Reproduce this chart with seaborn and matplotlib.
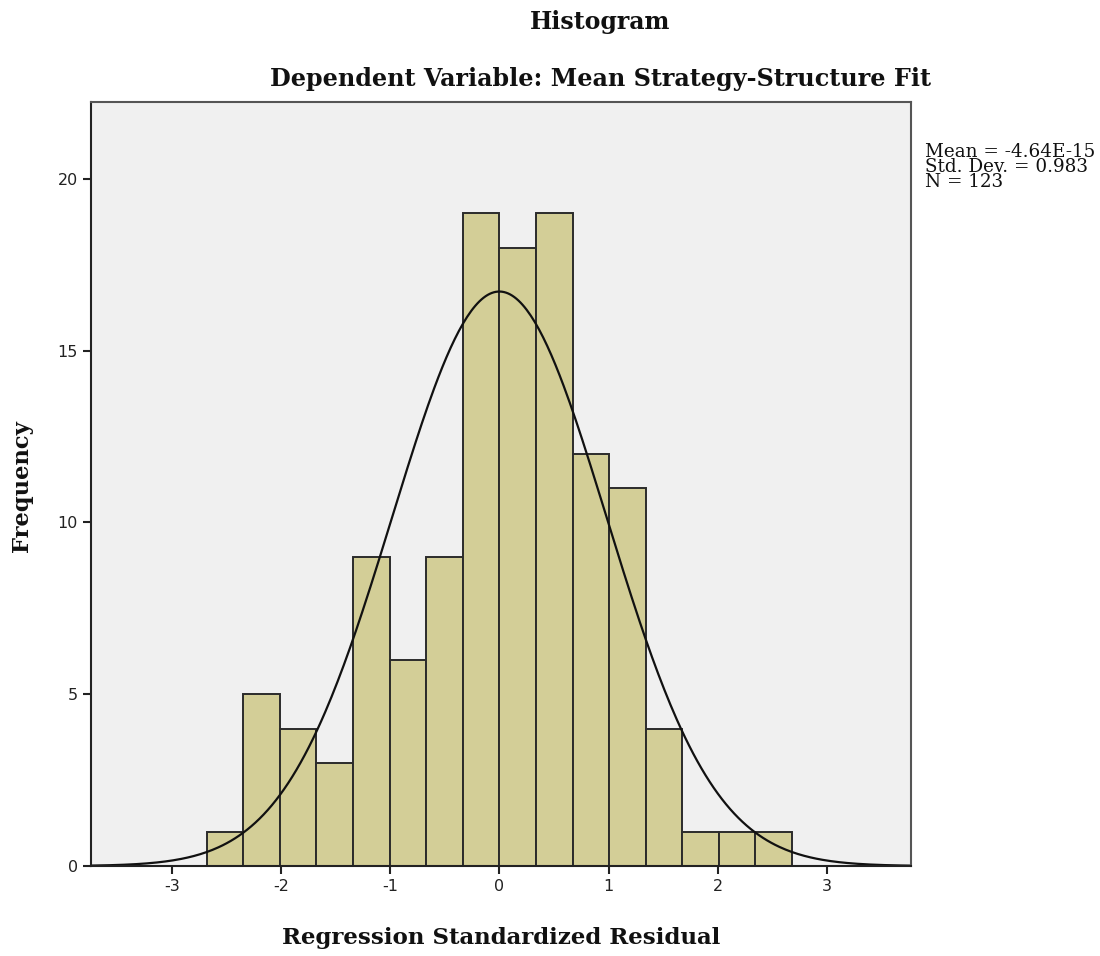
import numpy as np
import pandas as pd
import matplotlib
matplotlib.use("Agg")
import matplotlib.pyplot as plt
import seaborn as sns

# ---- data ----
counts = [1, 5, 4, 3, 9, 6, 9, 19, 18, 19, 12, 11, 4, 1, 1, 1]
bin_start = -2.68
bin_width = 0.335
mean_val = -4.64e-15
sd_val = 0.983
n_val = 123
x_ticks = [-3, -2, -1, 0, 1, 2, 3]
y_ticks = [0, 5, 10, 15, 20]

edges = [float(bin_start + bin_width * i) for i in range(len(counts) + 1)]
centers = [(edges[i] + edges[i + 1]) / 2 for i in range(len(counts))]
df = pd.DataFrame({"resid": centers, "count": counts})

sns.set_theme(style="white")
plt.rcParams["font.family"] = ["DejaVu Sans"]

fig = plt.figure(figsize=(11, 9.56), dpi=100)
ax = fig.add_axes([91 / 1100, 1 - 866 / 956, 820 / 1100, 764 / 956])
ax.set_facecolor("#F0F0F0")

sns.histplot(data=df, x="resid", weights="count", bins=edges, ax=ax,
             color="#D3CE97", alpha=1.0, edgecolor="#2b2b2b", linewidth=1.4)

# fitted normal curve
xs = np.linspace(-3.74, 3.77, 400)
ys = n_val * bin_width / (sd_val * np.sqrt(2 * np.pi)) * np.exp(-0.5 * ((xs - mean_val) / sd_val) ** 2)
sns.lineplot(x=xs, y=ys, ax=ax, color="#111111", linewidth=1.6)

ax.set_xlim(-3.74, 3.77)
ax.set_ylim(0, 22.24)
ax.set_xticks(x_ticks)
ax.set_xticklabels([str(t) for t in x_ticks])
ax.set_yticks(y_ticks)
ax.tick_params(axis="both", direction="out", length=6, width=1.5, color="#222222",
               labelsize=11.5, labelcolor="#222222", bottom=True, left=True)
for side in ["left", "bottom"]:
    ax.spines[side].set_color("#222222")
    ax.spines[side].set_linewidth(1.5)
for side in ["top", "right"]:
    ax.spines[side].set_color("#555555")
    ax.spines[side].set_linewidth(1.5)

ax.set_xlabel("")
ax.set_ylabel("")
serif = ["DejaVu Serif"]
fig.text(600 / 1100, 1 - 22 / 956, "Histogram", ha="center", va="center",
         fontsize=17, fontweight="bold", family=serif, color="#111111")
fig.text(600 / 1100, 1 - 79 / 956, "Dependent Variable: Mean Strategy-Structure Fit",
         ha="center", va="center", fontsize=17.2, fontweight="bold", family=serif, color="#111111")
fig.text(501 / 1100, 1 - 938 / 956, "Regression Standardized Residual", ha="center", va="center",
         fontsize=16.5, fontweight="bold", family=serif, color="#111111")
fig.text(22 / 1100, 1 - 486 / 956, "Frequency", ha="center", va="center", rotation=90,
         fontsize=16.3, fontweight="bold", family=serif, color="#111111")
fig.text(925 / 1100, 1 - 143 / 956,
         "Mean = -4.64E-15\nStd. Dev. = 0.983\nN = 123",
         ha="left", va="top", fontsize=13.2, family=serif, color="#111111",
         linespacing=0.8)

fig.savefig("out.png", dpi=100)
